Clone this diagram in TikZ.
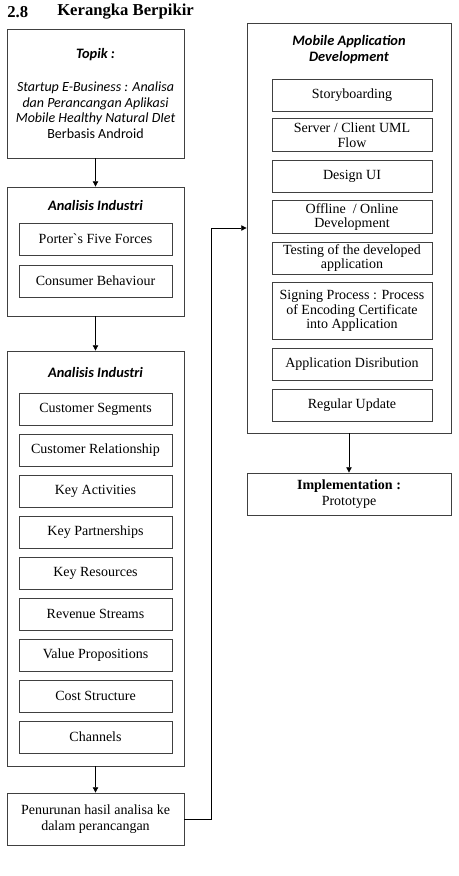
\documentclass[tikz,border=0pt]{standalone}
\usepackage{fontspec}
\setmainfont{Liberation Serif}[Ligatures=TeXOff]
\setsansfont{Carlito}
\usetikzlibrary{arrows.meta}

\tikzset{
  frame/.style={draw=black!75, line width=0.6pt, inner sep=0pt},
  item/.style={frame, align=center, minimum height=24pt,
    font=\fontsize{10.5}{11}\selectfont},
  leftitem/.style={item, minimum width=114.75pt},
  rightitem/.style={item, minimum width=120pt},
  head/.style={align=center, inner sep=0pt,
    font=\fontsize{10.8}{12}\selectfont\sffamily\bfseries\itshape},
  arr/.style={draw=black, line width=0.6pt, -{Triangle[length=4pt,width=4pt]}}
}

\begin{document}
\begin{tikzpicture}[x=0.75pt,y=-0.75pt]
    \useasboundingbox (0,0) rectangle (458,876);

    % judul
    \node[anchor=west, inner sep=0pt, font=\fontsize{12.5}{14}\selectfont\bfseries] (nomor) at (7,12) {2.8};
    \node[anchor=west, inner sep=0pt, font=\fontsize{12.5}{14}\selectfont\bfseries] (judul) at (57,12) {Kerangka Berpikir};

    % kolom kiri
    \node[frame, minimum width=132.75pt, minimum height=96.75pt] (topik) at (95.5,93.5) {};
    \node[head] (topikT) at (95.5,55) {Topik :};
    \node[align=center, inner sep=0pt, font=\fontsize{10.5}{11.6}\selectfont\sffamily] (topikB) at (95.5,110)
      {\itshape Startup E-Business : Analisa\\ \itshape dan Perancangan Aplikasi\\ \itshape Mobile Healthy Natural DIet\\ Berbasis Android};

    \node[frame, minimum width=132.75pt, minimum height=96.75pt] (ind1) at (95.5,251.5) {};
    \node[head] (ind1T) at (95.5,205) {Analisis Industri};
    \node[leftitem] (porter) at (95.5,239) {Porter`s Five Forces};
    \node[leftitem] (consumer) at (95.5,281) {Consumer Behaviour};

    \node[frame, minimum width=132.75pt, minimum height=311.25pt] (ind2) at (95.5,558.5) {};
    \node[head] (ind2T) at (95.5,372) {Analisis Industri};
    \foreach \txt [count=\i from 0] in {Customer Segments, Customer Relationship, Key Activities,
        Key Partnerships, Key Resources, Revenue Streams, Value Propositions, Cost Structure, Channels}
      \node[leftitem] (bmc\i) at (95.5,409+41*\i) {\txt};

    \node[frame, minimum width=132.75pt, minimum height=39pt, align=center,
      font=\fontsize{10.5}{12}\selectfont] (turun) at (95.5,819)
      {Penurunan hasil analisa ke\\ dalam perancangan};

    % kolom kanan
    \node[frame, minimum width=153pt, minimum height=307.5pt] (mad) at (349,228) {};
    \node[head] (madT) at (349,50) {Mobile Application\\ Development};
    \node[rightitem] (story) at (352,95) {Storyboarding};
    \node[rightitem, minimum height=24.75pt] (uml) at (352,135) {Server / Client UML\\ Flow};
    \node[rightitem] (design) at (352,176) {Design UI};
    \node[rightitem, minimum height=24.75pt] (offline) at (352,217) {Offline\ \ / Online\\ Development};
    \node[rightitem] (testing) at (352,258) {Testing of the developed\\ application};
    \node[rightitem, minimum height=42.75pt] (signing) at (352,311)
      {Signing Process : Process\\ of Encoding Certificate\\ into Application};
    \node[rightitem] (distrib) at (352,364) {Application Disribution};
    \node[rightitem] (update) at (352,405) {Regular Update};

    \node[frame, minimum width=153pt, minimum height=31.5pt, align=center,
      font=\fontsize{10.5}{12}\selectfont] (impl) at (349,494)
      {\textbf{Implementation :}\\ Prototype};

    % panah
    \coordinate (belok) at (211,228);
    \draw[arr] (topik.south) -- (ind1.north);
    \draw[arr] (ind1.south) -- (ind2.north);
    \draw[arr] (ind2.south) -- (turun.north);
    \draw[arr] (turun.east) -| (belok) -- (mad.west);
    \draw[arr] (mad.south) -- (impl.north);
\end{tikzpicture}
\end{document}
